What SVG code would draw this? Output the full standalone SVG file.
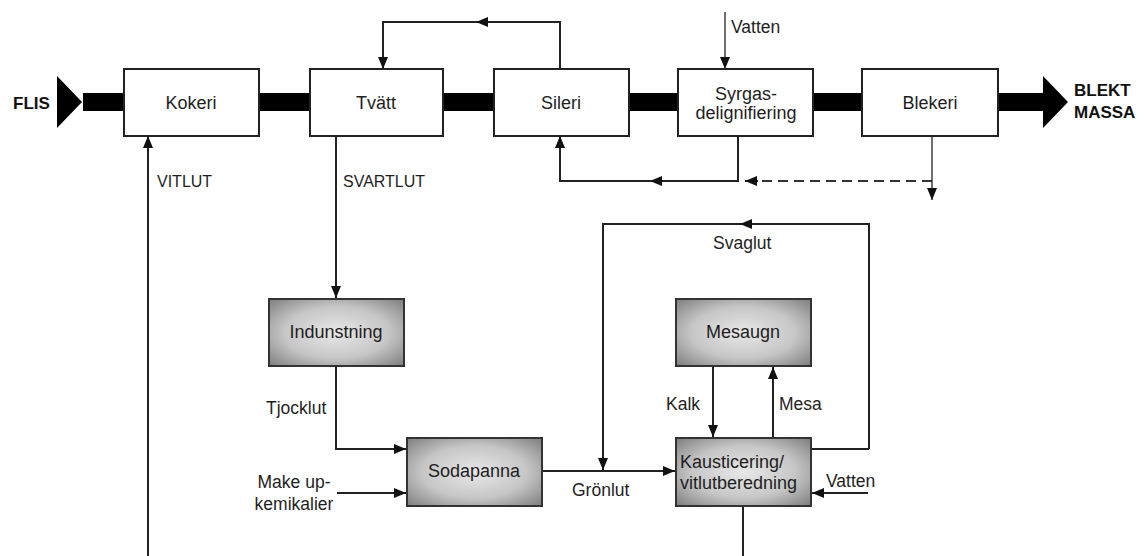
<svg xmlns="http://www.w3.org/2000/svg" width="1144" height="556" viewBox="0 0 1144 556">
<style>
.box{fill:#fff;stroke:#222;stroke-width:2}
.sbox{fill:url(#shade);stroke:#333;stroke-width:2}
.t{font-family:"Liberation Sans",Arial,sans-serif;font-size:18px;fill:#1e1e1e;text-anchor:middle}
.ts{font-family:"Liberation Sans",Arial,sans-serif;font-size:18px;fill:#1e1e1e;text-anchor:start}
.l{font-family:"Liberation Sans",Arial,sans-serif;font-size:17.5px;fill:#1e1e1e}
.lc{font-family:"Liberation Sans",Arial,sans-serif;font-size:16px;fill:#1e1e1e}
.lm{font-family:"Liberation Sans",Arial,sans-serif;font-size:17.5px;fill:#1e1e1e;text-anchor:middle}
.b{font-family:"Liberation Sans",Arial,sans-serif;font-size:17px;font-weight:bold;fill:#111}
.c{fill:none;stroke:#222;stroke-width:2}
.thin{fill:none;stroke:#222;stroke-width:1.3}
.dash{fill:none;stroke:#333;stroke-width:2;stroke-dasharray:10 6}
.bar{fill:#000}
</style>
<defs>
<radialGradient id="shade" cx="50%" cy="50%" r="70%">
<stop offset="0" stop-color="#e8e8e8"/>
<stop offset="0.55" stop-color="#c6c6c6"/>
<stop offset="1" stop-color="#7e7e7e"/>
</radialGradient>
<marker id="ah" viewBox="0 0 12 10" markerWidth="12" markerHeight="10" refX="12" refY="5" orient="auto" markerUnits="userSpaceOnUse">
<path d="M0,0 L12,5 L0,10 z" fill="#111"/>
</marker>
</defs>
<rect width="1144" height="556" fill="#fff"/>

<g id="mainflow">
<polygon class="bar" points="57,76 82,102 57,128"/>
<rect class="bar" x="83" y="93" width="41" height="18"/>
<rect class="bar" x="259" y="93" width="51" height="18"/>
<rect class="bar" x="443" y="93" width="51" height="18"/>
<rect class="bar" x="629" y="93" width="49" height="18"/>
<rect class="bar" x="813" y="93" width="49" height="18"/>
<rect class="bar" x="998" y="93" width="46" height="18"/>
<polygon class="bar" points="1043,76 1068,102 1043,128"/>
<text class="b" x="13" y="109">FLIS</text>
<text class="b" x="1074" y="96">BLEKT</text>
<text class="b" x="1074" y="118">MASSA</text>
</g>

<g id="connectors">
<path class="c" d="M560,69 V22 H476" marker-end="url(#ah)"/>
<path class="c" d="M477,22 H383 V69" marker-end="url(#ah)"/>
<path class="thin" d="M725,12 V69" marker-end="url(#ah)"/>
<path class="c" d="M738,136 V181 H650" marker-end="url(#ah)"/>
<path class="c" d="M651,181 H560 V136" marker-end="url(#ah)"/>
<path class="dash" d="M932,181 H760"/>
<path class="c" d="M758,181 H745" marker-end="url(#ah)"/>
<path class="thin" d="M932,136 V200" marker-end="url(#ah)"/>
<path class="c" d="M148,556 V136" marker-end="url(#ah)"/>
<path class="c" d="M336,136 V298" marker-end="url(#ah)"/>
<path class="c" d="M336,366 V449 H406" marker-end="url(#ah)"/>
<path class="c" d="M337,493 H406" marker-end="url(#ah)"/>
<path class="c" d="M542,471 H675" marker-end="url(#ah)"/>
<path class="c" d="M869,449 V224 H740" marker-end="url(#ah)"/>
<path class="c" d="M741,224 H603 V470" marker-end="url(#ah)"/>
<path class="c" d="M811,449 H869"/>
<path class="c" d="M713,366 V437" marker-end="url(#ah)"/>
<path class="c" d="M773,438 V367" marker-end="url(#ah)"/>
<path class="c" d="M868,493 H812" marker-end="url(#ah)"/>
<path class="c" d="M743,506 V556"/>
<text class="l" x="731" y="33">Vatten</text>
<text class="lc" x="157" y="187">VITLUT</text>
<text class="lc" x="343" y="187">SVARTLUT</text>
<text class="l" x="266" y="414">Tjocklut</text>
<text class="lm" x="294" y="488">Make up-</text>
<text class="lm" x="294" y="510">kemikalier</text>
<text class="l" x="572" y="496">Grönlut</text>
<text class="l" x="713" y="249">Svaglut</text>
<text class="l" x="666" y="410">Kalk</text>
<text class="l" x="779" y="410">Mesa</text>
<text class="l" x="826" y="487">Vatten</text>
</g>

<g id="kokeri"><rect class="box" x="124" y="69" width="135" height="67"/><text class="t" x="191" y="109">Kokeri</text></g>
<g id="tvatt"><rect class="box" x="310" y="69" width="133" height="67"/><text class="t" x="376" y="109">Tvätt</text></g>
<g id="sileri"><rect class="box" x="494" y="69" width="135" height="67"/><text class="t" x="561" y="109">Sileri</text></g>
<g id="syrgas"><rect class="box" x="678" y="69" width="135" height="67"/><text class="t" x="746" y="100">Syrgas-</text><text class="t" x="746" y="119">delignifiering</text></g>
<g id="blekeri"><rect class="box" x="862" y="69" width="136" height="67"/><text class="t" x="930" y="109">Blekeri</text></g>
<g id="indunstning"><rect class="sbox" x="269" y="299" width="135" height="67"/><text class="t" x="336" y="338">Indunstning</text></g>
<g id="sodapanna"><rect class="sbox" x="407" y="438" width="135" height="68"/><text class="t" x="474" y="477">Sodapanna</text></g>
<g id="mesaugn"><rect class="sbox" x="676" y="299" width="135" height="67"/><text class="t" x="743" y="338">Mesaugn</text></g>
<g id="kausticering"><rect class="sbox" x="676" y="438" width="135" height="68"/><text class="ts" x="680" y="468">Kausticering/</text><text class="ts" x="680" y="489">vitlutberedning</text></g>
</svg>
